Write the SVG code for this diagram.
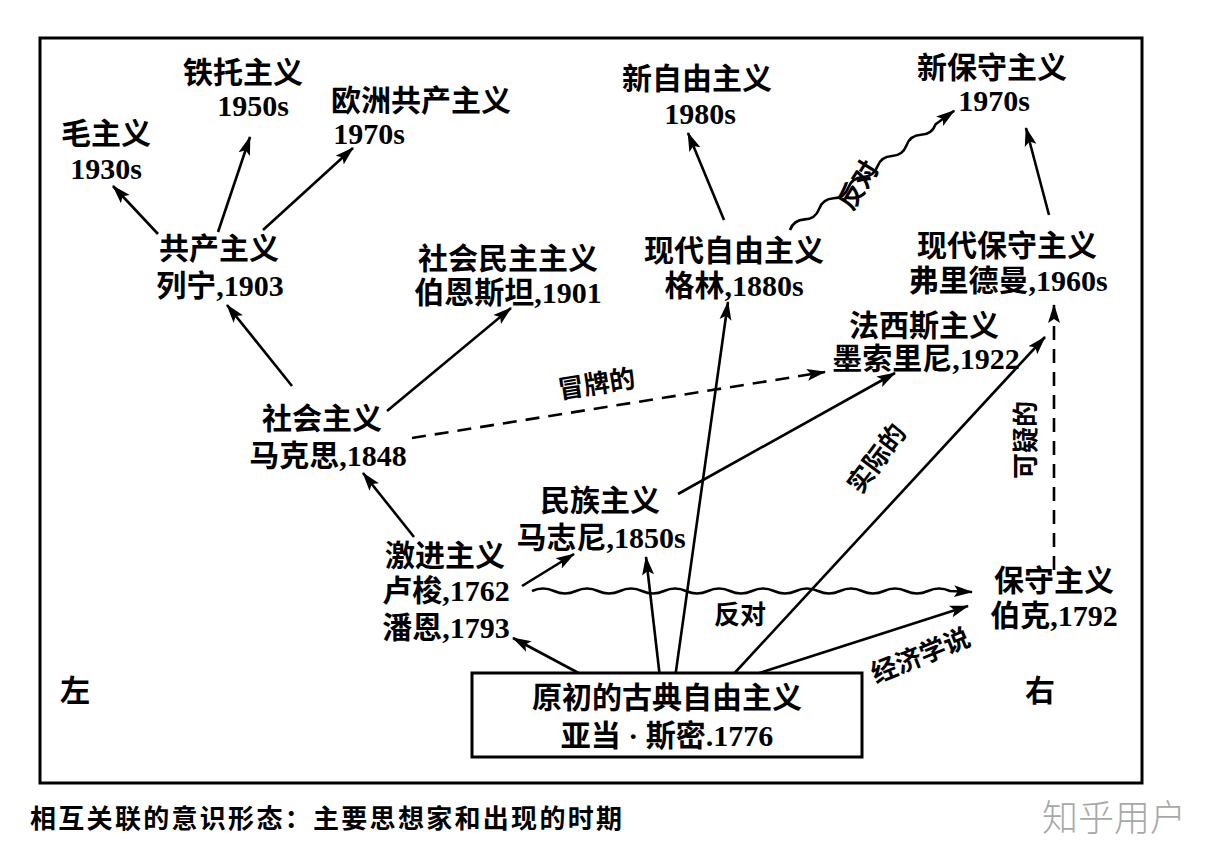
<svg xmlns="http://www.w3.org/2000/svg" width="1224" height="859" viewBox="0 0 1224 859">
<style>
  .t { font-family: "Liberation Serif", "Noto Sans CJK SC", serif; font-size: 30px; font-weight: bold; text-anchor: middle; fill: #000; }
  .lbl { font-family: "Liberation Serif", "Noto Sans CJK SC", serif; font-size: 26px; font-weight: bold; text-anchor: middle; fill: #000; }
  .ln { stroke: #000; stroke-width: 2.6; fill: none; marker-end: url(#ah); }
  .dash { stroke-dasharray: 14 9; }
  .cap { font-family: "Noto Sans CJK SC", sans-serif; font-size: 26px; font-weight: bold; fill: #000; }
  .wm { font-family: "Noto Sans CJK SC", sans-serif; font-size: 36px; font-weight: 300; fill: #a8a8a8; }
</style>
<defs>
  <marker id="ah" markerUnits="userSpaceOnUse" markerWidth="20" markerHeight="14" refX="18" refY="7" orient="auto">
    <path d="M0,1 L19,7 L0,13 L4,7 Z" fill="#000"/>
  </marker>
</defs>
<rect width="1224" height="859" fill="#fff"/>
<rect x="40" y="38" width="1102" height="745" fill="none" stroke="#000" stroke-width="3"/>

<g id="connectors">
  <line class="ln" x1="158" y1="234" x2="113" y2="186"/>
  <line class="ln" x1="218" y1="232" x2="250" y2="137"/>
  <line class="ln" x1="263" y1="230" x2="353" y2="148"/>
  <line class="ln" x1="292" y1="386" x2="227" y2="305"/>
  <line class="ln" x1="387" y1="411" x2="511" y2="308"/>
  <line class="ln" x1="724" y1="220" x2="688" y2="133"/>
  <g transform="translate(790,230) rotate(-36)">
    <path class="ln" d="M0 0 Q9 -6 18 0 T36 0 T54 0 T72 0 T90 0 T108 0 T126 0 T144 0 T162 0 T180 0 L203 0"/>
  </g>
  <line class="ln" x1="1049" y1="215" x2="1026" y2="128"/>
  <line class="ln dash" x1="412" y1="438" x2="825" y2="372"/>
  <line class="ln" x1="678" y1="494" x2="895" y2="373"/>
  <line class="ln" x1="414" y1="537" x2="363" y2="473"/>
  <line class="ln" x1="522" y1="586" x2="574" y2="554"/>
  <path class="ln" d="M532 591 Q543 586 554 591 T576 591 T598 591 T620 591 T642 591 T664 591 T686 591 T708 591 T730 591 T752 591 T774 591 T796 591 T818 591 T840 591 T862 591 T884 591 T906 591 T928 591 T950 591 L972 592"/>
  <line class="ln" x1="586" y1="677" x2="513" y2="638"/>
  <line class="ln" x1="660" y1="678" x2="646" y2="557"/>
  <line class="ln" x1="675" y1="678" x2="728" y2="302"/>
  <line class="ln" x1="730" y1="678" x2="1045" y2="337"/>
  <line class="ln" x1="750" y1="676" x2="968" y2="606"/>
  <line class="ln dash" x1="1054" y1="570" x2="1054" y2="305"/>
  <text class="lbl" transform="translate(866,190) rotate(-58)">反对</text>
  <text class="lbl" transform="translate(598,393) rotate(-9)">冒牌的</text>
  <text class="lbl" transform="translate(884,464) rotate(-53)">实际的</text>
  <text class="lbl" transform="translate(1035,440) rotate(-90)">可疑的</text>
  <text class="lbl" x="740" y="624">反对</text>
  <text class="lbl" transform="translate(924,664) rotate(-22)">经济学说</text>
</g>

<g id="n-mao"><text class="t" x="106" y="144">毛主义</text><text class="t" x="106" y="179">1930s</text></g>
<g id="n-tito"><text class="t" x="243" y="83">铁托主义</text><text class="t" x="253" y="116">1950s</text></g>
<g id="n-euro"><text class="t" x="421" y="111">欧洲共产主义</text><text class="t" x="369" y="144">1970s</text></g>
<g id="n-comm"><text class="t" x="219" y="259">共产主义</text><text class="t" x="220" y="296">列宁,1903</text></g>
<g id="n-socdem"><text class="t" x="508" y="269">社会民主主义</text><text class="t" x="508" y="303">伯恩斯坦,1901</text></g>
<g id="n-neolib"><text class="t" x="697" y="89">新自由主义</text><text class="t" x="700" y="124">1980s</text></g>
<g id="n-neocon"><text class="t" x="992" y="78">新保守主义</text><text class="t" x="994" y="111">1970s</text></g>
<g id="n-modlib"><text class="t" x="734" y="261">现代自由主义</text><text class="t" x="734" y="296">格林,1880s</text></g>
<g id="n-modcon"><text class="t" x="1007" y="256">现代保守主义</text><text class="t" x="1008" y="291">弗里德曼,1960s</text></g>
<g id="n-fasc"><text class="t" x="924" y="336">法西斯主义</text><text class="t" x="926" y="369">墨索里尼,1922</text></g>
<g id="n-soc"><text class="t" x="322" y="429">社会主义</text><text class="t" x="328" y="466">马克思,1848</text></g>
<g id="n-nat"><text class="t" x="600" y="511">民族主义</text><text class="t" x="601" y="548">马志尼,1850s</text></g>
<g id="n-rad"><text class="t" x="445" y="566">激进主义</text><text class="t" x="446" y="601">卢梭,1762</text><text class="t" x="446" y="638">潘恩,1793</text></g>
<g id="n-cons"><text class="t" x="1054" y="591">保守主义</text><text class="t" x="1054" y="626">伯克,1792</text></g>
<g id="n-classic">
  <rect x="472" y="673" width="390" height="84" fill="#fff" stroke="#000" stroke-width="3"/>
  <text class="t" x="667" y="708">原初的古典自由主义</text>
  <text class="t" x="667" y="746">亚当 · 斯密.1776</text>
</g>
<g id="side-left"><text class="t" x="75" y="701">左</text></g>
<g id="side-right"><text class="t" x="1040" y="701">右</text></g>

<text class="cap" x="30" y="828" textLength="592" lengthAdjust="spacing">相互关联的意识形态：主要思想家和出现的时期</text>
<text class="wm" x="1042" y="831">知乎用户</text>
</svg>
